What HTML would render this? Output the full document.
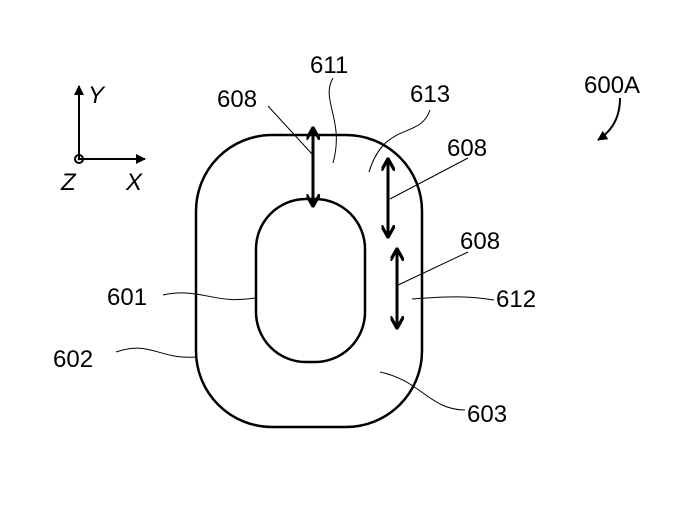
<!DOCTYPE html><html><head><style>body{margin:0;background:#fff}svg{display:block}text{font-family:"Liberation Sans",sans-serif;font-size:24px;fill:#000}</style></head><body>
<svg width="676" height="511" viewBox="0 0 676 511">
<defs><marker id="a" viewBox="0 0 10 10" refX="9" refY="5" markerWidth="5" markerHeight="5" orient="auto-start-reverse"><path d="M0,0 L10,5 L0,10 z" fill="#000"/></marker>
<marker id="b" viewBox="0 0 10 10" refX="8" refY="5" markerWidth="4.5" markerHeight="4.5" orient="auto-start-reverse"><path d="M0,0 L9,5 L0,10" fill="none" stroke="#000" stroke-width="2.4"/></marker></defs>
<g fill="none" stroke="#000">
<rect x="196" y="135" width="226" height="292" rx="76" stroke-width="2.5"/>
<rect x="256" y="199" width="109" height="163" rx="50" stroke-width="2.5"/>
<g stroke-width="3" marker-start="url(#b)" marker-end="url(#b)">
<line x1="313" y1="129" x2="313" y2="205"/>
<line x1="388" y1="160" x2="388" y2="236"/>
<line x1="397" y1="250" x2="397" y2="327"/>
</g>
<g stroke-width="1">
<path d="M268,106 L312,154"/>
<path d="M333,78 C320,100 345,120 333,163"/>
<path d="M430,110 C420,140 385,120 369,172"/>
<path d="M468,158 L390,199"/>
<path d="M468,252 L396,286"/>
<path d="M494,300 C470,296 450,296 412,299"/>
<path d="M163,295 C200,287 215,305 255,298"/>
<path d="M116,352 C150,340 160,360 196,357"/>
<path d="M465,410 C430,410 420,380 380,372"/>
</g>
<g stroke-width="2"><line x1="79" y1="159" x2="79" y2="86" marker-end="url(#a)"/><line x1="79" y1="159" x2="145" y2="159" marker-end="url(#a)"/><circle cx="79" cy="159" r="4"/></g>
<path d="M620,98 C620,120 610,132 598,140" stroke-width="2" marker-end="url(#a)"/>
</g>
<circle cx="79" cy="159" r="1.3"/>
<g font-style="italic"><text x="88" y="103">Y</text><text x="126" y="190">X</text><text x="61" y="190">Z</text></g>
<text x="217" y="107">608</text><text x="310" y="73">611</text><text x="410" y="102">613</text><text x="447" y="156">608</text><text x="460" y="249">608</text><text x="496" y="307">612</text><text x="107" y="305">601</text><text x="53" y="367">602</text><text x="467" y="422">603</text><text x="584" y="93">600A</text>
</svg></body></html>
